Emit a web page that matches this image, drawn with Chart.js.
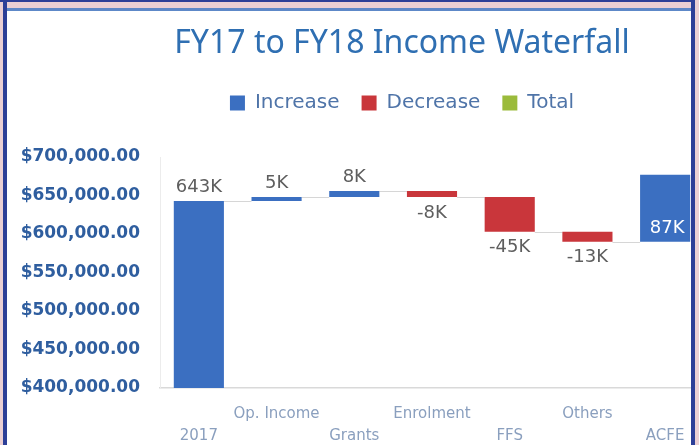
<!DOCTYPE html>
<html>
<head>
<meta charset="utf-8">
<script src="https://cdn.jsdelivr.net/npm/chart.js@4.4.1/dist/chart.umd.min.js"></script>
<style>
  html, body { margin: 0; padding: 0; }
  body { width: 699px; height: 445px; position: relative; overflow: hidden; background: #eacfd3; }
  #clip { position: absolute; left: 7px; top: 11px; width: 684px; height: 434px; overflow: hidden; background: #ffffff; }
  #chart { position: absolute; left: 0; top: 0; }
  .fr { position: absolute; z-index: 5; }
</style>
</head>
<body>
<div id="clip"><canvas id="chart" width="790" height="434"></canvas></div>
<div class="fr" style="left:0;top:0;width:695px;height:2px;background:#2c3f97;"></div>
<div class="fr" style="left:3px;top:0;width:4px;height:445px;background:#2c3f97;"></div>
<div class="fr" style="left:691px;top:0;width:4px;height:445px;background:#2c3f97;"></div>
<div class="fr" style="left:7px;top:8px;width:684px;height:3px;background:#5d88c8;"></div>
<script>
// ---- data ----
const categories = ['2017', 'Op. Income', 'Grants', 'Enrolment', 'FFS', 'Others', 'ACFE'];
const changes = [643000, 5000, 8000, -8000, -45000, -13000, 87000];
const valueLabels = ['643K', '5K', '8K', '-8K', '-45K', '-13K', '87K'];
const yTickValues = [400000, 450000, 500000, 550000, 600000, 650000, 700000];
const yTickLabels = ['$400,000.00', '$450,000.00', '$500,000.00', '$550,000.00', '$600,000.00', '$650,000.00', '$700,000.00'];
const seriesNames = ['Increase', 'Decrease', 'Total'];
const seriesColors = ['#3b6fc1', '#c9363b', '#9bbb3b'];

// running totals -> floating bar ranges
const starts = [], ends = [];
let run = 0;
changes.forEach(c => { starts.push(run); run += c; ends.push(run); });
const incData = changes.map((c, i) => c >= 0 ? [starts[i], ends[i]] : null);
const decData = changes.map((c, i) => c < 0 ? [ends[i], starts[i]] : null);
const totData = changes.map(() => null);

const connectorPlugin = {
  id: 'connectors',
  beforeDatasetsDraw(chart) {
    const ctx = chart.ctx, y = chart.scales.y;
    const els = chart.data.labels.map((_, i) => {
      for (let d = 0; d < 2; d++) {
        if (chart.data.datasets[d].data[i]) return chart.getDatasetMeta(d).data[i];
      }
      return null;
    });
    ctx.save();
    ctx.strokeStyle = '#d6d6d6';
    ctx.lineWidth = 1;
    for (let i = 0; i < els.length - 1; i++) {
      const a = els[i], b = els[i + 1];
      if (!a || !b) continue;
      const py = Math.round(y.getPixelForValue(ends[i])) + 0.5;
      ctx.beginPath();
      ctx.moveTo(a.x + a.width / 2, py);
      ctx.lineTo(b.x - b.width / 2, py);
      ctx.stroke();
    }
    ctx.restore();
  }
};

const labelPlugin = {
  id: 'valueLabels',
  afterDatasetsDraw(chart) {
    const ctx = chart.ctx;
    ctx.save();
    ctx.font = '18px "DejaVu Sans"';
    ctx.textAlign = 'center';
    ctx.textBaseline = 'middle';
    const last = categories.length - 1;
    categories.forEach((_, i) => {
      const d = changes[i] >= 0 ? 0 : 1;
      const el = chart.getDatasetMeta(d).data[i];
      if (!el) return;
      const top = Math.min(el.y, el.base), bottom = Math.max(el.y, el.base);
      if (i === last) {
        ctx.fillStyle = '#ffffff';
        ctx.fillText(valueLabels[i], el.x + 2, bottom - 13);
      } else if (changes[i] >= 0) {
        ctx.fillStyle = '#5e5e5e';
        ctx.fillText(valueLabels[i], el.x, top - 14);
      } else {
        ctx.fillStyle = '#5e5e5e';
        ctx.fillText(valueLabels[i], el.x, bottom + 16);
      }
    });
    ctx.restore();
  }
};

const legendSpace = {
  id: 'legendSpace',
  beforeInit(chart) {
    const orig = chart.legend.fit;
    chart.legend.fit = function () { orig.call(this); this.height += 34; };
  }
};

new Chart(document.getElementById('chart'), {
  type: 'bar',
  data: {
    labels: categories,
    datasets: [
      { label: seriesNames[0], data: incData, backgroundColor: seriesColors[0] },
      { label: seriesNames[1], data: decData, backgroundColor: seriesColors[1] },
      { label: seriesNames[2], data: totData, backgroundColor: seriesColors[2] }
    ]
  },
  plugins: [connectorPlugin, labelPlugin, legendSpace],
  options: {
    responsive: false,
    animation: false,
    devicePixelRatio: 1,
    layout: { padding: 0 },
    datasets: { bar: { grouped: false, categoryPercentage: 1, barPercentage: 0.645, borderWidth: 0 } },
    plugins: {
      tooltip: { enabled: false },
      title: {
        display: true,
        text: 'FY17 to FY18 Income Waterfall',
        color: '#2f6fb2',
        font: { family: '"Noto Sans"', size: 32, weight: 'normal', lineHeight: 1.2 },
        padding: { top: 13.8, bottom: 7.8 }
      },
      legend: {
        display: true,
        position: 'top',
        labels: {
          color: '#4f74a8',
          font: { family: '"DejaVu Sans"', size: 20 },
          boxWidth: 15,
          boxHeight: 15,
          padding: 22
        }
      }
    },
    scales: {
      x: {
        type: 'category',
        offset: true,
        grid: { display: false, drawTicks: false },
        border: { display: true, color: '#d9d9d9', width: 1.5 },
        afterFit(s) { s.height = 57; },
        ticks: {
          autoSkip: false,
          maxRotation: 0,
          minRotation: 0,
          padding: 15,
          color: '#8a9fbe',
          font: { family: '"DejaVu Sans"', size: 15, lineHeight: '22px' },
          callback(v, i) { return i % 2 === 0 ? ['', categories[i]] : [categories[i], '']; }
        }
      },
      y: {
        type: 'linear',
        min: yTickValues[0],
        max: yTickValues[yTickValues.length - 1],
        grid: { display: false, drawTicks: false },
        border: { display: true, color: '#ececec', width: 1 },
        afterFit(s) { s.width = 153; },
        afterBuildTicks(s) { s.ticks = yTickValues.map(v => ({ value: v })); },
        ticks: {
          padding: 20,
          color: '#2f5e9f',
          font: { family: '"DejaVu Sans"', size: 17, weight: 'bold' },
          callback(v) { const k = yTickValues.indexOf(v); return k >= 0 ? yTickLabels[k] : ''; }
        }
      },
      yR: {
        type: 'linear',
        position: 'right',
        display: true,
        grid: { display: false, drawTicks: false },
        border: { display: false },
        ticks: { display: false },
        afterFit(s) { s.width = 93; }
      }
    }
  }
});
</script>
</body>
</html>
